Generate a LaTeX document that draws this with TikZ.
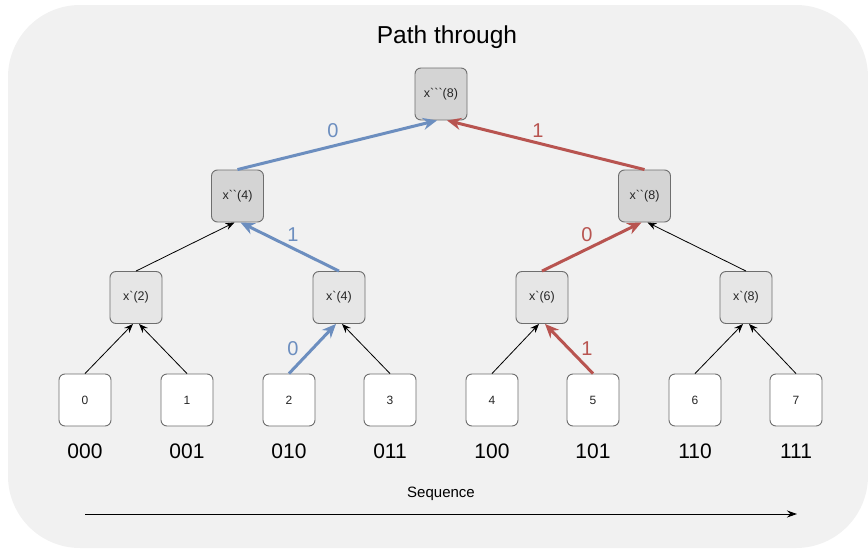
\documentclass[tikz,border=0pt]{standalone}
\usepackage{fontspec}
\setmainfont{Liberation Sans}
\usetikzlibrary{arrows.meta}
\definecolor{bgc}{HTML}{F1F1F1}
\definecolor{dgray}{HTML}{D4D4D4}
\definecolor{lgray}{HTML}{E6E6E6}
\definecolor{strk}{HTML}{6E6E6E}
\definecolor{pblue}{HTML}{6C8EBF}
\definecolor{pred}{HTML}{B85450}
\newcommand\gq{\textasciigrave}
\tikzset{
  box/.style={draw=strk, line width=0.9pt, rounded corners=6pt, minimum width=52pt, minimum height=52pt, inner sep=0pt, text=black!85, font=\fontsize{12.5}{14}\selectfont},
  dbox/.style={box, fill=dgray},
  lbox/.style={box, fill=lgray},
  leafbox/.style={box, fill=white, font=\fontsize{12}{14}\selectfont},
  bits/.style={font=\fontsize{21}{24}\selectfont},
  blk/.style={-{Stealth[length=9pt,width=7pt]}, line width=0.8pt, draw=black},
  blu/.style={-{Stealth[length=14pt,width=12pt]}, line width=3pt, draw=pblue},
  rdd/.style={-{Stealth[length=14pt,width=12pt]}, line width=3pt, draw=pred},
  bl/.style={text=pblue, font=\fontsize{20}{22}\selectfont},
  rl/.style={text=pred, font=\fontsize{20}{22}\selectfont},
}
\begin{document}
\begin{tikzpicture}[x=1pt,y=-1pt]
\useasboundingbox (0,0) rectangle (868,549);
\fill[bgc, rounded corners=72pt] (8,5) rectangle (868,548);
\node[font=\fontsize{24.5}{28}\selectfont] (title) at (447,37) {Path through};

% top
\node[dbox] (t) at (441,94) {x\gq\gq\gq(8)};
% level 2
\node[dbox] (a1) at (237.5,196) {x\gq\gq(4)};
\node[dbox] (a2) at (644.5,196) {x\gq\gq(8)};
% level 1
\node[lbox] (m1) at (136,297.5) {x\gq(2)};
\node[lbox] (m2) at (339,297.5) {x\gq(4)};
\node[lbox] (m3) at (542,297.5) {x\gq(6)};
\node[lbox] (m4) at (746,297.5) {x\gq(8)};
% leaves
\foreach \i/\x in {0/85,1/187,2/289,3/390,4/492,5/593,6/695,7/796}{
  \node[leafbox] (l\i) at (\x,400) {\i};
}
\node[bits] (b0) at (85,451) {000};
\node[bits] (b1) at (187,451) {001};
\node[bits] (b2) at (289,451) {010};
\node[bits] (b3) at (390,451) {011};
\node[bits] (b4) at (492,451) {100};
\node[bits] (b5) at (593,451) {101};
\node[bits] (b6) at (695,451) {110};
\node[bits] (b7) at (796,451) {111};

% edges leaves -> level1
\draw[blk] (l0.north) -- ([xshift=-3pt]m1.south);
\draw[blk] (l1.north) -- ([xshift=3pt]m1.south);
\draw[blu] (l2.north) -- ([xshift=-3pt]m2.south);
\draw[blk] (l3.north) -- ([xshift=3pt]m2.south);
\draw[blk] (l4.north) -- ([xshift=-3pt]m3.south);
\draw[rdd] (l5.north) -- ([xshift=3pt]m3.south);
\draw[blk] (l6.north) -- ([xshift=-3pt]m4.south);
\draw[blk] (l7.north) -- ([xshift=3pt]m4.south);
% level1 -> level2
\draw[blk] (m1.north) -- ([xshift=-3pt]a1.south);
\draw[blu] (m2.north) -- ([xshift=3pt]a1.south);
\draw[rdd] (m3.north) -- ([xshift=-3pt]a2.south);
\draw[blk] (m4.north) -- ([xshift=3pt]a2.south);
% level2 -> top
\draw[blu] (a1.north) -- ([xshift=-4pt]t.south);
\draw[rdd] (a2.north) -- ([xshift=6pt]t.south);

% edge labels
\node[bl] (e1) at (333,131) {0};
\node[rl] (e2) at (538,131) {1};
\node[bl] (e3) at (293,235) {1};
\node[rl] (e4) at (587,235) {0};
\node[bl] (e5) at (293,349) {0};
\node[rl] (e6) at (587,349) {1};

% sequence arrow
\node[font=\fontsize{15}{17}\selectfont] (seq) at (441,494) {Sequence};
\coordinate (s0) at (85,514);
\coordinate (s1) at (797,514);
\draw[-{Stealth[length=10pt,width=7pt]}, line width=1pt] (s0) -- (s1);
\end{tikzpicture}
\end{document}
